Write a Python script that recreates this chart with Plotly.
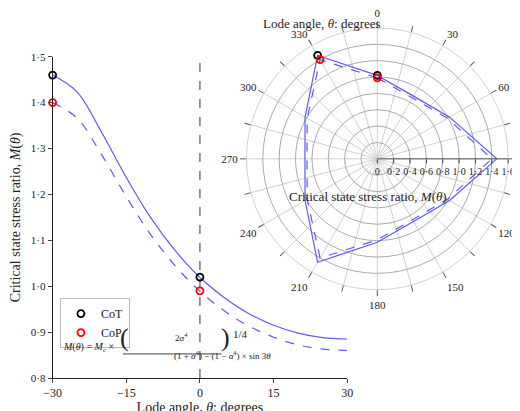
import plotly.graph_objects as go

# Lode angle sweep (degrees) and M(theta)
lode = [-30, -25, -20, -15, -10, -5, 0, 5, 10, 15, 20, 25, 30]
m_cot = [1.460, 1.423, 1.335, 1.237, 1.149, 1.077, 1.019, 0.975, 0.940, 0.915, 0.898, 0.888, 0.885]
m_cop = [1.400, 1.366, 1.286, 1.195, 1.112, 1.044, 0.989, 0.946, 0.913, 0.889, 0.872, 0.863, 0.860]

# polar panel, every 30 degrees
polar_theta = [0, 30, 60, 90, 120, 150, 180, 210, 240, 270, 300, 330, 360]
polar_cot = [1.02, 0.885, 1.02, 1.46, 1.02, 0.885, 1.02, 1.46, 1.02, 0.885, 1.02, 1.46, 1.02]
polar_cop = [0.99, 0.86, 0.99, 1.40, 0.99, 0.86, 0.99, 1.40, 0.99, 0.86, 0.99, 1.40, 0.99]

# marked points
mark_theta = [-30, 0]
mark_cot = [1.46, 1.02]
mark_cop = [1.40, 0.99]
mark_polar = [330, 0]

y_ticks = [0.8, 0.9, 1.0, 1.1, 1.2, 1.3, 1.4, 1.5]
r_ticks = [0, 0.2, 0.4, 0.6, 0.8, 1.0, 1.2, 1.4, 1.6]


def dot(v):
    return ("%g" % v).replace(".", "·") if v != 1 else "1·0"


FONT = "Liberation Serif"
BLUE = "#5b5bf5"

fig = go.Figure()
fig.add_trace(go.Scatter(x=lode, y=m_cot, mode="lines", line=dict(color=BLUE, width=1.2, shape="spline"),
                         showlegend=False))
fig.add_trace(go.Scatter(x=lode, y=m_cop, mode="lines", line=dict(color=BLUE, width=1.2, dash="dash", shape="spline"),
                         showlegend=False))
fig.add_trace(go.Scatter(x=mark_theta, y=mark_cot, mode="markers", name="CoT", cliponaxis=False,
                         marker=dict(symbol="circle-open", color="black", size=7, line=dict(width=1.8))))
fig.add_trace(go.Scatter(x=mark_theta, y=mark_cop, mode="markers", name="CoP", cliponaxis=False,
                         marker=dict(symbol="circle-open", color="red", size=7, line=dict(width=1.8))))

fig.add_trace(go.Scatterpolar(theta=polar_theta, r=polar_cot, mode="lines", subplot="polar",
                              line=dict(color=BLUE, width=1.2), showlegend=False))
fig.add_trace(go.Scatterpolar(theta=polar_theta, r=polar_cop, mode="lines", subplot="polar",
                              line=dict(color=BLUE, width=1.2, dash="dash"), showlegend=False))
fig.add_trace(go.Scatterpolar(theta=mark_polar, r=mark_cot, mode="markers", subplot="polar", showlegend=False,
                              marker=dict(symbol="circle-open", color="black", size=7, line=dict(width=1.8))))
fig.add_trace(go.Scatterpolar(theta=mark_polar, r=mark_cop, mode="markers", subplot="polar", showlegend=False,
                              marker=dict(symbol="circle-open", color="red", size=7, line=dict(width=1.8))))

fig.add_shape(type="line", x0=0, x1=0, y0=0.8, y1=1.49, xref="x", yref="y",
              line=dict(color="#555555", width=1.2, dash="dash"), layer="below")

# formula
fig.add_annotation(x=0.087, y=0.144, xref="paper", yref="paper", showarrow=False, xanchor="left",
                   text="<i>M</i>(<i>θ</i>) = <i>M</i><sub>c</sub> ×", font=dict(size=10))
fig.add_annotation(x=0.2, y=0.148, xref="paper", yref="paper", showarrow=False,
                   text="(", font=dict(size=26))
fig.add_annotation(x=0.412, y=0.148, xref="paper", yref="paper", showarrow=False,
                   text=")", font=dict(size=26))
fig.add_annotation(x=0.308, y=0.17, xref="paper", yref="paper", showarrow=False,
                   text="2<i>α</i><sup>4</sup>", font=dict(size=9))
fig.add_annotation(x=0.307, y=0.125, xref="paper", yref="paper", showarrow=False,
                   text="(1 + <i>α</i><sup>4</sup>) − (1 − <i>α</i><sup>4</sup>) × sin 3<i>θ</i>", font=dict(size=9))
fig.add_shape(type="line", xref="paper", yref="paper", x0=0.21, x1=0.405, y0=0.148, y1=0.148,
              line=dict(color="#444444", width=1))
fig.add_annotation(x=0.424, y=0.178, xref="paper", yref="paper", showarrow=False, xanchor="left",
                   text="1/4", font=dict(size=11))

fig.add_annotation(x=0.725, y=1.0, xref="paper", yref="paper", showarrow=False, yanchor="top",
                   text="Lode angle, <i>θ</i>: degrees", font=dict(size=13))
fig.add_annotation(x=0.855, y=0.543, xref="paper", yref="paper", showarrow=False,
                   text="Critical state stress ratio, <i>M</i>(<i>θ</i>)", font=dict(size=13))

ang_vals = list(range(0, 360, 15))
fig.update_layout(
    width=520, height=411,
    margin=dict(l=0, r=0, t=0, b=0),
    paper_bgcolor="white", plot_bgcolor="white",
    font=dict(family=FONT, size=12, color="#222222"),
    xaxis=dict(domain=[0.0705, 0.654], range=[-30, 30], tickvals=[-30, -15, 0, 15, 30],
               ticktext=["−30", "−15", "0", "15", "30"], showline=True, linecolor="#222222",
               ticks="outside", ticklen=4, showgrid=False, zeroline=False,
               title=dict(text="Lode angle, <i>θ</i>: degrees", font=dict(size=14), standoff=0)),
    yaxis=dict(domain=[0.0876, 0.893], range=[0.8, 1.5], tickvals=y_ticks,
               ticktext=[dot(v) for v in y_ticks], showline=True, linecolor="#222222",
               ticks="outside", ticklen=4, showgrid=False, zeroline=False, tickfont=dict(size=11),
               title=dict(text="Critical state stress ratio, <i>M</i>(<i>θ</i>)", font=dict(size=14), standoff=6)),
    legend=dict(x=0.085, y=0.288, xanchor="left", yanchor="top", bordercolor="#bbbbbb", borderwidth=1,
                bgcolor="white", font=dict(size=12), itemwidth=30, tracegroupgap=0),
    polar=dict(
        domain=dict(x=[0.454, 0.973], y=[0.309, 0.965]),
        bgcolor="white",
        angularaxis=dict(rotation=90, direction="clockwise", tickvals=ang_vals,
                         ticktext=[str(a) if a % 30 == 0 else "" for a in ang_vals],
                         gridcolor="#d0d0d0", linecolor="#d0d0d0", ticks="outside", ticklen=6,
                         tickcolor="#555555", tickfont=dict(size=11)),
        radialaxis=dict(range=[0, 1.6], tickvals=r_ticks, ticktext=[dot(v) for v in r_ticks], angle=0,
                        tickangle=0, gridcolor="#aaaaaa", showline=True, linecolor="#555555",
                        ticks="outside", ticklen=4, tickfont=dict(size=10)),
    ),
)

fig.write_html("out.html")
